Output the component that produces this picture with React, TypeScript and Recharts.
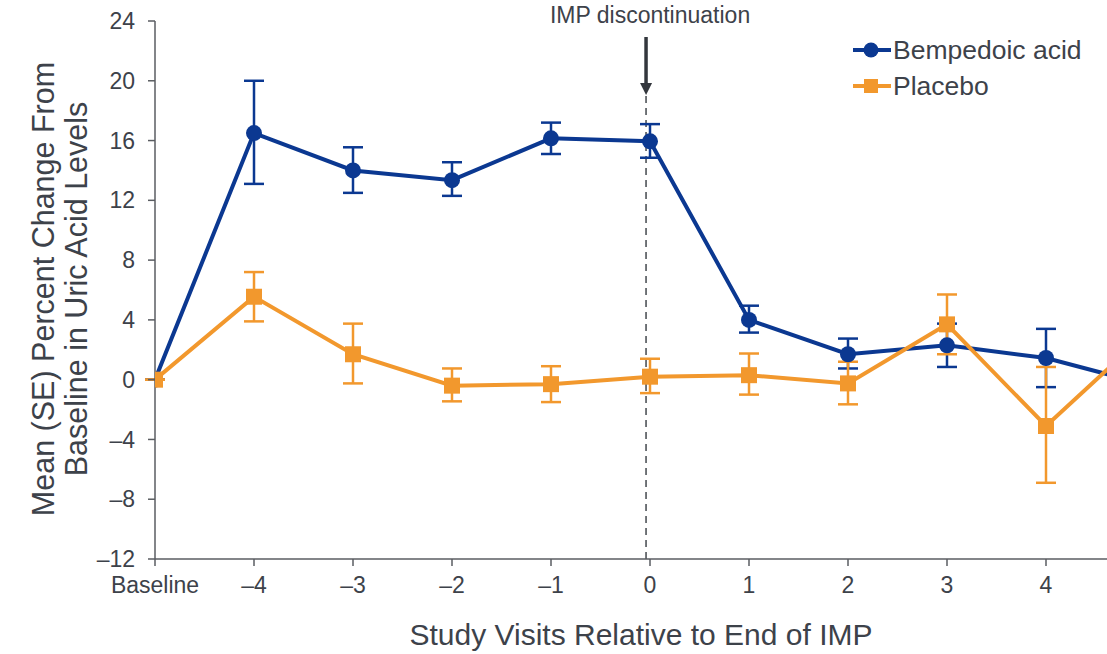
import React from 'react';
import { LineChart, Line, XAxis, YAxis, ErrorBar, ReferenceLine, ReferenceDot, Legend } from 'recharts';

const categories = ['Baseline', '–4', '–3', '–2', '–1', '0', '1', '2', '3', '4', '5'];
const bempedoic = [0, 16.5, 14.0, 13.35, 16.15, 15.95, 4.0, 1.7, 2.3, 1.45, -0.3];
const bempedoicErrLow = [0, 3.4, 1.5, 1.05, 1.05, 1.1, 0.85, 0.95, 1.45, 1.95, 1.5];
const bempedoicErrHigh = [0, 3.5, 1.55, 1.2, 1.05, 1.15, 0.95, 1.05, 1.45, 1.95, 1.5];
const placebo = [0, 5.55, 1.7, -0.4, -0.3, 0.2, 0.3, -0.25, 3.7, -3.1, 3.0];
const placeboErrLow = [0, 1.65, 1.95, 1.05, 1.2, 1.1, 1.3, 1.4, 2.0, 3.8, 2.0];
const placeboErrHigh = [0, 1.65, 2.05, 1.15, 1.2, 1.2, 1.45, 1.45, 2.0, 3.95, 2.0];
const yTicks = [-12, -8, -4, 0, 4, 8, 12, 16, 20, 24];
const xTicks = [0, 1, 2, 3, 4, 5, 6, 7, 8, 9];

const BLUE = '#0b3891';
const ORANGE = '#f2982d';
const TEXT = '#3d424a';
const AXIS = '#5a5d62';
const FONT = '"Liberation Sans", Arial, sans-serif';

const data = categories.map((c, i) => ({
  x: i,
  label: c,
  b: bempedoic[i],
  bErr: [bempedoicErrLow[i], bempedoicErrHigh[i]],
  p: placebo[i],
  pErr: [placeboErrLow[i], placeboErrHigh[i]],
}));

const CircleDot = (props: any) => {
  const { cx, cy, index } = props;
  if (cx == null || cy == null) return <g key={`c${index}`} />;
  return <circle key={`c${index}`} cx={cx} cy={cy} r={8} fill={BLUE} />;
};

const SquareDot = (props: any) => {
  const { cx, cy, index } = props;
  if (cx == null || cy == null) return <g key={`s${index}`} />;
  return <rect key={`s${index}`} x={cx - 8} y={cy - 8} width={16} height={16} fill={ORANGE} />;
};

const ArrowShape = (props: any) => {
  const { cx, cy } = props;
  if (cx == null || cy == null) return <g />;
  return (
    <g>
      <text x={cx + 4} y={cy - 72} textAnchor="middle" fontSize={23} fill={TEXT} fontFamily={FONT}>
        IMP discontinuation
      </text>
      <line x1={cx} y1={cy - 58} x2={cx} y2={cy - 10} stroke="#33373d" strokeWidth={3.5} />
      <polygon points={`${cx - 6},${cy - 12} ${cx + 6},${cy - 12} ${cx},${cy}`} fill="#33373d" />
    </g>
  );
};

const LegendBox = () => {
  const rows = [
    { name: 'Bempedoic acid', color: BLUE, shape: 'circle' },
    { name: 'Placebo', color: ORANGE, shape: 'square' },
  ];
  return (
    <div style={{ fontFamily: FONT }}>
      {rows.map((r) => (
        <div key={r.name} style={{ display: 'flex', alignItems: 'center', height: 36 }}>
          <svg width={40} height={20} style={{ marginRight: 2 }}>
            <line x1={2} y1={10} x2={40} y2={10} stroke={r.color} strokeWidth={4} />
            {r.shape === 'circle' ? (
              <circle cx={20} cy={10} r={7.5} fill={r.color} />
            ) : (
              <rect x={13} y={3} width={14} height={14} fill={r.color} />
            )}
          </svg>
          <span style={{ fontSize: 26.5, color: TEXT, lineHeight: '36px' }}>{r.name}</span>
        </div>
      ))}
    </div>
  );
};

const YLabel = (p: any) => {
  const vb = p.viewBox || { x: 0, y: 21, width: 155, height: 538 };
  const cy = vb.y + vb.height / 2 - 1;
  const x1 = vb.x + 43;
  const x2 = vb.x + 76;
  return (
    <g fontFamily={FONT} fontSize={30.5} fill={TEXT}>
      <text x={x1} y={cy} transform={`rotate(-90, ${x1}, ${cy})`} textAnchor="middle" dominantBaseline="central" fill={TEXT}>
        Mean (SE) Percent Change From
      </text>
      <text x={x2} y={cy} transform={`rotate(-90, ${x2}, ${cy})`} textAnchor="middle" dominantBaseline="central" fill={TEXT}>
        Baseline in Uric Acid Levels
      </text>
    </g>
  );
};

const XLabel = (p: any) => {
  const vb = p.viewBox || { x: 155, y: 559, width: 990, height: 95 };
  return (
    <text x={vb.x + vb.width / 2 - 9} y={vb.y + 86} textAnchor="middle" fontFamily={FONT} fontSize={30} fill={TEXT}>
      Study Visits Relative to End of IMP
    </text>
  );
};

const fmtY = (v: number) => (v < 0 ? `–${Math.abs(v)}` : `${v}`);

export default function App() {
  return (
    <div style={{ position: 'absolute', left: 0, top: 0, width: 1107, height: 654, overflow: 'hidden', background: '#fff' }}>
      <LineChart width={1200} height={654} data={data} margin={{ top: 21, right: 55, bottom: 0, left: 0 }}>
        <XAxis
          dataKey="x"
          type="number"
          domain={[0, 10]}
          ticks={xTicks}
          tickFormatter={(v: number) => categories[v]}
          height={95}
          tickSize={7}
          tickMargin={11}
          stroke={AXIS}
          axisLine={{ stroke: AXIS, strokeWidth: 1.5 }}
          tickLine={{ stroke: AXIS, strokeWidth: 1.5 }}
          tick={{ fill: TEXT, fontSize: 23, fontFamily: FONT }}
          interval={0}
          allowDataOverflow
          label={{ content: (p: any) => <XLabel {...p} /> }}
        />
        <YAxis
          type="number"
          domain={[-12, 24]}
          ticks={yTicks}
          tickFormatter={fmtY}
          width={155}
          tickSize={7}
          tickMargin={13}
          stroke={AXIS}
          axisLine={{ stroke: AXIS, strokeWidth: 1.5 }}
          tickLine={{ stroke: AXIS, strokeWidth: 1.5 }}
          tick={{ fill: TEXT, fontSize: 23, fontFamily: FONT }}
          interval={0}
          label={{ content: (p: any) => <YLabel {...p} /> }}
        />
        <ReferenceLine
          segment={[{ x: 4.96, y: -12 }, { x: 4.96, y: 19.05 }]}
          stroke="#44484e"
          strokeWidth={1.5}
          strokeDasharray="7 5"
          ifOverflow="visible"
        />
        <ReferenceDot x={4.96} y={19.05} r={0} ifOverflow="visible" shape={(props: any) => <ArrowShape {...props} />} />
        <Line
          type="linear"
          dataKey="b"
          name="Bempedoic acid"
          stroke={BLUE}
          strokeWidth={4}
          dot={CircleDot}
          activeDot={false}
          isAnimationActive={false}
        >
          <ErrorBar dataKey="bErr" direction="y" width={10} stroke={BLUE} strokeWidth={2.5} isAnimationActive={false} />
        </Line>
        <Line
          type="linear"
          dataKey="p"
          name="Placebo"
          stroke={ORANGE}
          strokeWidth={4}
          dot={SquareDot}
          activeDot={false}
          isAnimationActive={false}
        >
          <ErrorBar dataKey="pErr" direction="y" width={10} stroke={ORANGE} strokeWidth={2.5} isAnimationActive={false} />
        </Line>
        <Legend
          layout="horizontal"
          verticalAlign="middle"
          align="center"
          wrapperStyle={{ top: 32, left: 851, width: 260, height: 72 }}
          content={() => <LegendBox />}
        />
      </LineChart>
    </div>
  );
}
